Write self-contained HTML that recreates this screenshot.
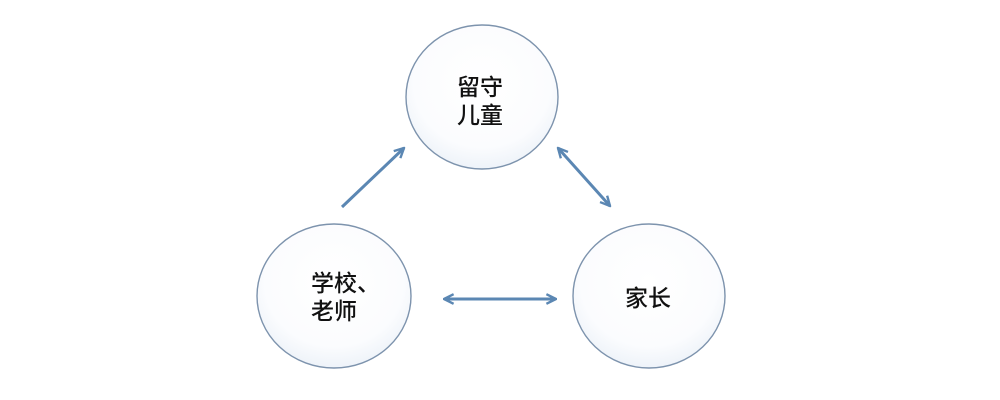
<!DOCTYPE html>
<html><head><meta charset="utf-8"><style>
html,body{margin:0;padding:0;background:#fff;width:1000px;height:400px;overflow:hidden}
text{font-family:"Liberation Sans","Noto Sans CJK SC",sans-serif;font-size:23px;font-weight:500;fill:#111}
</style></head><body>
<svg width="1000" height="400" viewBox="0 0 1000 400" xmlns="http://www.w3.org/2000/svg">
<defs>
<radialGradient id="g" cx="50%" cy="40%" r="60%">
<stop offset="0" stop-color="#ffffff"/><stop offset="0.75" stop-color="#fbfcfe"/><stop offset="1" stop-color="#eef3f9"/>
</radialGradient>
<marker id="a" viewBox="0 0 10 10" refX="9" refY="5" markerWidth="4" markerHeight="4" orient="auto-start-reverse">
<path d="M1,1 L9,5 L1,9" fill="none" stroke="#5b87b3" stroke-width="2"/>
</marker>
</defs>
<g stroke="#7d93ad" stroke-width="1.4" fill="url(#g)">
<ellipse cx="482" cy="97" rx="76" ry="72"/>
<ellipse cx="334" cy="296" rx="77" ry="72"/>
<ellipse cx="649" cy="296" rx="76" ry="72"/>
</g>
<g stroke="#5b87b3" stroke-width="3" fill="none">
<line x1="342" y1="207" x2="404" y2="148" marker-end="url(#a)"/>
<line x1="558" y1="148" x2="610" y2="206" marker-start="url(#a)" marker-end="url(#a)"/>
<line x1="444" y1="299" x2="556" y2="299" marker-start="url(#a)" marker-end="url(#a)"/>
</g>
<text x="457" y="95">留守</text>
<text x="457" y="123">儿童</text>
<text x="311" y="291">学校、</text>
<text x="311" y="319">老师</text>
<text x="625" y="306">家长</text>
</svg>
</body></html>
